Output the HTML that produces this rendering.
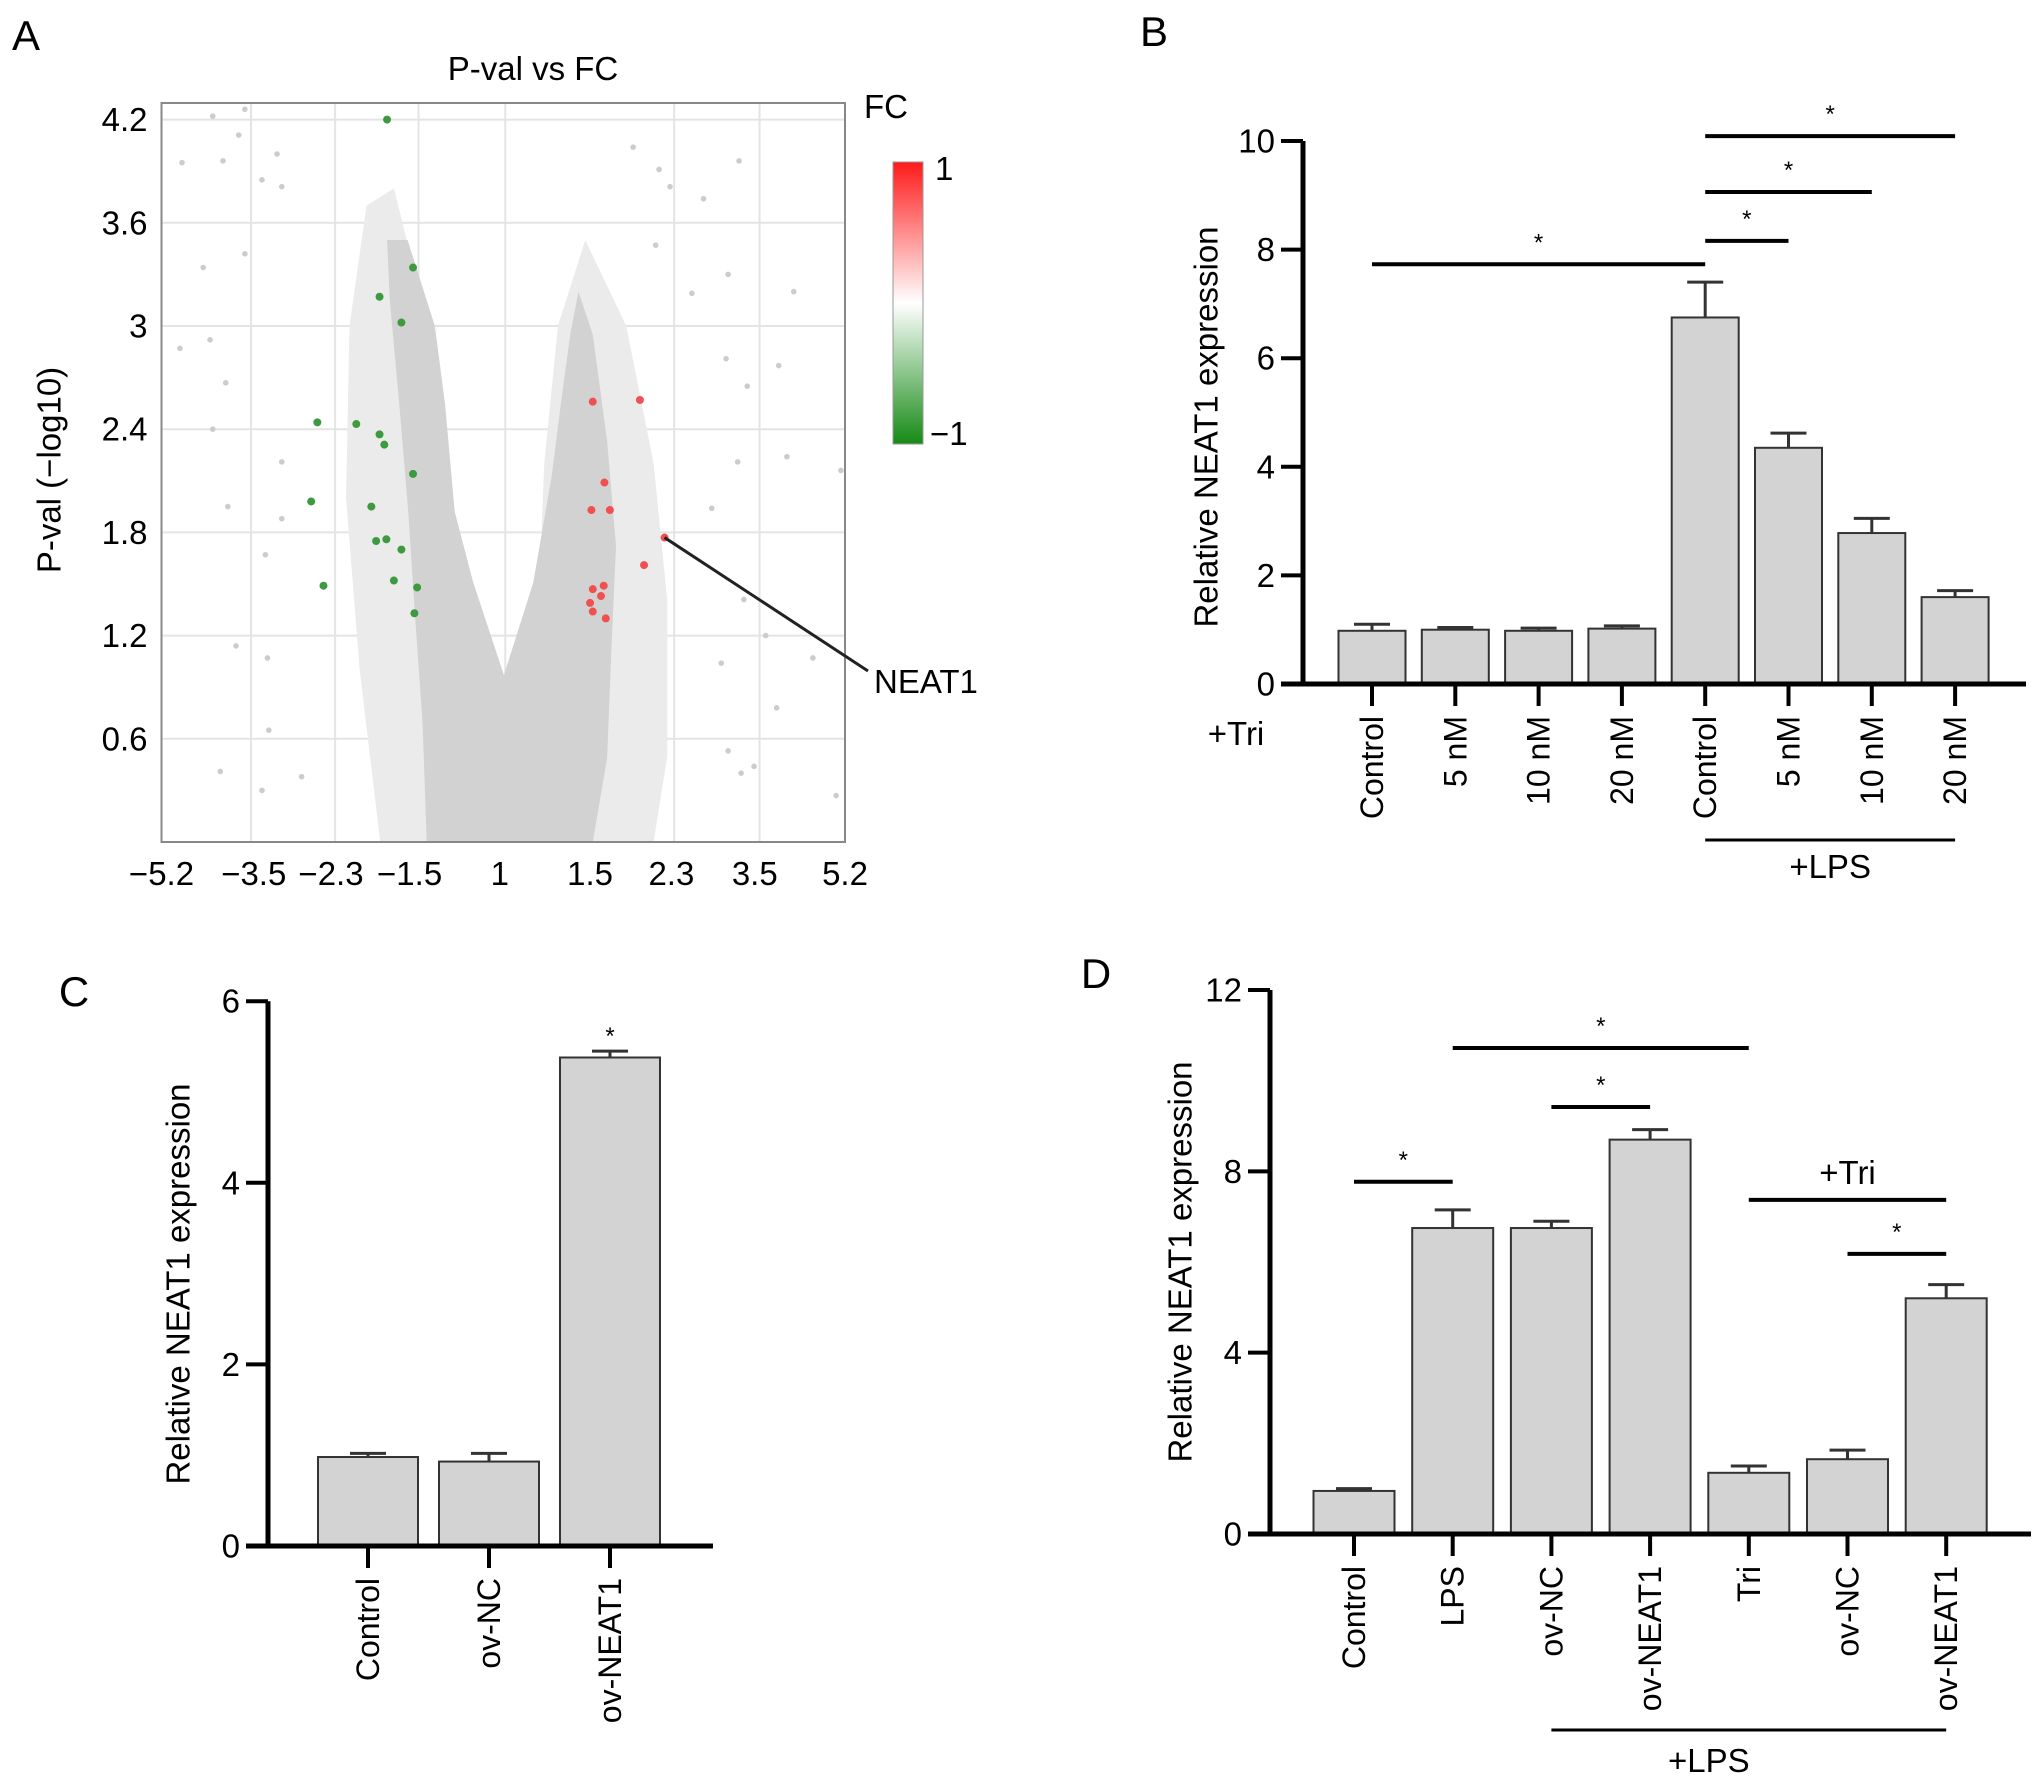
<!DOCTYPE html>
<html><head><meta charset="utf-8"><style>
body{margin:0;background:#fff}
svg{display:block;font-family:"Liberation Sans",sans-serif}
</style></head><body>
<svg id="fig" width="2032" height="1781" viewBox="0 0 2032 1781">
<g id="pa"></g>
<g id="pb"></g>
<g id="pc"></g>
<g id="pd"></g>
</svg>
<script>
// ---------- Panel A data ----------
const aTickLabels = ["−5.2","−3.5","−2.3","−1.5","1","1.5","2.3","3.5","5.2"];
const aTickU = [0,1.35,2.48,3.63,4.95,6.27,7.46,8.68,10];
const aGridU = [1.31,2.54,3.76,5.03,7.5,8.75];
const aYTicks = [0.6,1.2,1.8,2.4,3.0,3.6,4.2];
const aYTickLabels = ["0.6","1.2","1.8","2.4","3","3.6","4.2"];
const greenU = [3.30,3.68,3.19,3.51,2.28,2.85,3.19,3.26,3.68,2.19,3.07,3.14,3.29,3.51,2.37,3.40,3.74,3.70];
const greenY = [4.20,3.34,3.17,3.02,2.44,2.43,2.37,2.31,2.14,1.98,1.95,1.75,1.76,1.70,1.49,1.52,1.48,1.33];
const redU = [6.31,7.00,6.48,6.29,6.56,7.36,7.06,6.31,6.47,6.43,6.27,6.31,6.50];
const redY = [2.56,2.57,2.09,1.93,1.93,1.77,1.61,1.47,1.49,1.43,1.39,1.34,1.30];
const grayU = [0.75,1.22,0.30,0.90,1.13,1.69,1.47,1.76,0.61,1.22,0.27,0.71,0.94,0.75,1.76,0.97,1.76,1.52,1.09,1.55,1.57,0.86,1.47,2.05,9.94,9.87,9.25,9.03,8.45,7.93,8.29,8.57,8.43,9.15,8.52,9.53,8.19,9.0,8.29,8.48,6.9,7.28,7.44,7.23,7.76,8.26,8.67,8.84,8.05];
const grayY = [4.22,4.26,3.95,3.96,4.11,4.0,3.85,3.81,3.34,3.42,2.87,2.92,2.67,2.40,2.21,1.95,1.88,1.67,1.14,1.07,0.65,0.41,0.30,0.38,2.16,0.27,3.2,2.77,3.96,3.74,3.30,2.65,2.21,2.24,1.41,1.07,1.04,0.78,0.53,0.40,4.04,3.91,3.81,3.47,3.19,2.81,0.44,1.20,1.94];
const haloLeftU = [3.2,2.9,2.7,2.75,3.0,3.4,3.9,4.2,4.5,4.7];
const haloLeftY = [0,1.0,2.0,3.0,3.7,3.8,3.0,2.0,1.2,0];
const haloRightU = [5.4,5.5,5.6,5.8,6.2,6.8,7.2,7.4,7.4,7.2];
const haloRightY = [0,1.2,2.2,3.0,3.5,3.0,2.2,1.4,0.5,0];
const cloudU = [3.88,3.82,3.71,3.61,3.48,3.34,3.3,3.6,4.0,4.15,4.29,4.56,5.01,5.44,5.71,5.84,5.98,6.1,6.31,6.52,6.65,6.58,6.52,6.31];
const cloudY = [0,0.69,1.31,1.92,2.54,3.15,3.5,3.5,3.0,2.54,1.92,1.51,0.97,1.51,2.13,2.54,2.95,3.2,2.95,2.33,1.72,1.10,0.49,0];

// ---------- Panel B data ----------
const bCats = ["Control","5 nM","10 nM","20 nM","Control","5 nM","10 nM","20 nM"];
const bVals = [0.98,1.0,0.98,1.02,6.75,4.35,2.78,1.6];
const bErr = [1.1,1.04,1.03,1.07,7.4,4.62,3.05,1.72];
const bTicks = [0,2,4,6,8,10];
const bSigFrom = [0,4,4,4];
const bSigTo = [4,5,6,7];
const bSigY = [7.73,8.16,9.06,10.09];

// ---------- Panel C data ----------
const cCats = ["Control","ov-NC","ov-NEAT1"];
const cVals = [0.98,0.93,5.38];
const cErr = [1.02,1.02,5.45];
const cTicks = [0,2,4,6];
const cStarIdx = [2];
const cStarY = [5.64];

// ---------- Panel D data ----------
const dCats = ["Control","LPS","ov-NC","ov-NEAT1","Tri","ov-NC","ov-NEAT1"];
const dVals = [0.95,6.75,6.75,8.7,1.35,1.65,5.2];
const dErr = [1.0,7.15,6.9,8.92,1.5,1.85,5.5];
const dTicks = [0,4,8,12];
const dSigFrom = [0,1,2,5];
const dSigTo = [1,4,3,6];
const dSigY = [7.77,10.72,9.42,6.18];
const dTriFrom = 4, dTriTo = 6, dTriY = 7.37;

const TICK=33, TITLE=33, ROT=32;
const NS="http://www.w3.org/2000/svg";
function mk(parent,tag,attrs,text){const e=document.createElementNS(NS,tag);for(const k in attrs)e.setAttribute(k,attrs[k]);if(text!==undefined)e.textContent=text;parent.appendChild(e);return e;}

// ---------- Panel A ----------
(function(){
  const g=document.getElementById('pa');
  const L=161.5,R=845,T=103,B=842;
  const ux=u=>L+u*(R-L)/10;
  const yy=v=>B-v*172;
  let e;
  e=mk(g,'text',{x:12,y:50,'font-size':42});e.textContent='A';
  
  
  e=mk(g,'text',{x:533,y:80,'font-size':TITLE,'text-anchor':'middle'},'P-val vs FC');
  
  
  aYTicks.forEach((v,i)=>{
    e=mk(g,'line',{x1:L,x2:R,y1:yy(v),y2:yy(v),stroke:'#e4e4e4','stroke-width':2});
    
    
    e=mk(g,'text',{x:L-14,y:yy(v),'font-size':TICK,'text-anchor':'end','dominant-baseline':'central'},aYTickLabels[i]);
    
    
  });
  aGridU.forEach(u=>{
    e=mk(g,'line',{x1:ux(u),x2:ux(u),y1:T,y2:B,stroke:'#e4e4e4','stroke-width':2});
    
    
  });
  aTickU.forEach((u,i)=>{
    e=mk(g,'text',{x:ux(u),y:885,'font-size':TICK,'text-anchor':'middle'},aTickLabels[i]);
    
    
  });
  const poly=(us,ys)=>us.map((u,i)=>ux(u)+','+yy(ys[i])).join(' ');
  e=mk(g,'polygon',{points:poly(haloLeftU,haloLeftY),fill:'#ebebeb'});
  
  
  e=mk(g,'polygon',{points:poly(haloRightU,haloRightY),fill:'#ebebeb'});
  
  
  e=mk(g,'polygon',{points:poly(cloudU,cloudY),fill:'#d2d2d2'});
  
  
  grayU.forEach((u,i)=>{
    e=mk(g,'circle',{cx:ux(u),cy:yy(grayY[i]),r:2.8,fill:'#cccccc'});
    
    
  });
  greenU.forEach((u,i)=>{
    e=mk(g,'circle',{cx:ux(u),cy:yy(greenY[i]),r:4,fill:'#3e9a3e'});
    
    
  });
  redU.forEach((u,i)=>{
    e=mk(g,'circle',{cx:ux(u),cy:yy(redY[i]),r:4,fill:'#f05050'});
    
    
  });
  e=mk(g,'rect',{x:L,y:T,width:R-L,height:B-T,fill:'none',stroke:'#888','stroke-width':2});
  
  
  e=mk(g,'text',{x:49,y:470,'font-size':TITLE,'text-anchor':'middle','dominant-baseline':'central',transform:'rotate(-90 49 470)'},'P-val (−log10)');
  
  
  e=mk(g,'line',{x1:ux(redU[5]),y1:yy(redY[5]),x2:868,y2:671,stroke:'#222','stroke-width':3});
  
  
  e=mk(g,'text',{x:874,y:693,'font-size':TICK},'NEAT1');
  
  
  const defs=mk(g,'defs',{});
  const lg=mk(defs,'linearGradient',{id:'cb',x1:0,y1:0,x2:0,y2:1});
  mk(lg,'stop',{offset:'0','stop-color':'#ff1a1a'});
  mk(lg,'stop',{offset:'0.5','stop-color':'#ffffff'});
  mk(lg,'stop',{offset:'1','stop-color':'#168a16'});
  e=mk(g,'rect',{x:893,y:162,width:30,height:282,fill:'url(#cb)',stroke:'#999','stroke-width':1});
  
  
  e=mk(g,'text',{x:864,y:118,'font-size':TICK},'FC');
  
  
  e=mk(g,'text',{x:935,y:180,'font-size':TICK},'1');
  
  
  e=mk(g,'text',{x:930,y:445,'font-size':TICK},'−1');
  
  
})();

// ---------- generic bar chart ----------
function barChart(g,o){
  const yy=v=>o.y0-v*o.pu;
  const cx=i=>o.c0+i*o.step;
  let e;
  e=mk(g,'line',{x1:o.ax,x2:o.ax,y1:yy(o.ticks[o.ticks.length-1]),y2:o.y0+2,stroke:'#000','stroke-width':5});
  
  
  o.ticks.forEach(t=>{
    e=mk(g,'line',{x1:o.ax-22,x2:o.ax,y1:yy(t),y2:yy(t),stroke:'#000','stroke-width':4});
    
    
    e=mk(g,'text',{x:o.ax-28,y:yy(t),'font-size':TICK,'text-anchor':'end','dominant-baseline':'central'},String(t));
    
    
  });
  o.vals.forEach((v,i)=>{
    const x=cx(i);
    e=mk(g,'line',{x1:x,x2:x,y1:yy(v),y2:yy(o.err[i]),stroke:'#333','stroke-width':3});
    
    
    e=mk(g,'line',{x1:x-o.cap,x2:x+o.cap,y1:yy(o.err[i]),y2:yy(o.err[i]),stroke:'#333','stroke-width':3});
    
    
    e=mk(g,'rect',{x:x-o.bw/2,y:yy(v),width:o.bw,height:o.y0-yy(v),fill:'#d3d3d3',stroke:'#333','stroke-width':2});
    
    
    e=mk(g,'line',{x1:x,x2:x,y1:o.y0,y2:o.y0+22,stroke:'#000','stroke-width':4});
    
    
    const ty=o.y0+32;
    e=mk(g,'text',{x:x,y:ty,'font-size':ROT,'text-anchor':'end','dominant-baseline':'central',transform:'rotate(-90 '+x+' '+ty+')'},o.cats[i]);
    
    
  });
  e=mk(g,'line',{x1:o.ax-22,x2:o.axEnd,y1:o.y0,y2:o.y0,stroke:'#000','stroke-width':5});
  
  
  e=mk(g,'text',{x:o.titleX,y:o.titleY,'font-size':TITLE,'text-anchor':'middle','dominant-baseline':'central',transform:'rotate(-90 '+o.titleX+' '+o.titleY+')'},'Relative NEAT1 expression');
  
  
  return {yy,cx};
}
function sig(g,x1,x2,y,label){
  let e=mk(g,'line',{x1:x1,x2:x2,y1:y,y2:y,stroke:'#000','stroke-width':4});
  
  
  if(label){
    e=mk(g,'text',{x:(x1+x2)/2,y:label==='*'?y-14:y-16,'font-size':label==='*'?24:TICK,'text-anchor':'middle'},label);
    
    
  }
}

// ---------- Panel B ----------
(function(){
  const g=document.getElementById('pb');
  const s=barChart(g,{cats:bCats,vals:bVals,err:bErr,ticks:bTicks,y0:684,pu:54.3,ax:1303,axEnd:2026,c0:1372,step:83.3,bw:67,cap:18,titleX:1206,titleY:427});
  bSigFrom.forEach((f,i)=>sig(g,s.cx(f),s.cx(bSigTo[i]),s.yy(bSigY[i]),'*'));
  let e=mk(g,'text',{x:1154,y:46,'font-size':42,'text-anchor':'middle'},'B');
  
  
  e=mk(g,'text',{x:1236,y:745,'font-size':TICK,'text-anchor':'middle'},'+Tri');
  
  
  e=mk(g,'line',{x1:s.cx(4),x2:s.cx(7),y1:840,y2:840,stroke:'#000','stroke-width':3});
  
  
  e=mk(g,'text',{x:(s.cx(4)+s.cx(7))/2,y:878,'font-size':TICK,'text-anchor':'middle'},'+LPS');
  
  
})();

// ---------- Panel C ----------
(function(){
  const g=document.getElementById('pc');
  const s=barChart(g,{cats:cCats,vals:cVals,err:cErr,ticks:cTicks,y0:1546,pu:90.8,ax:268,axEnd:713,c0:368,step:121,bw:100,cap:18,titleX:178,titleY:1284});
  cStarIdx.forEach((idx,i)=>{
    let e=mk(g,'text',{x:s.cx(idx),y:s.yy(cStarY[i])+10,'font-size':24,'text-anchor':'middle'},'*');
    
    
  });
  let e=mk(g,'text',{x:74,y:1006,'font-size':42,'text-anchor':'middle'},'C');
  
  
})();

// ---------- Panel D ----------
(function(){
  const g=document.getElementById('pd');
  const s=barChart(g,{cats:dCats,vals:dVals,err:dErr,ticks:dTicks,y0:1534,pu:45.33,ax:1270,axEnd:2031,c0:1354,step:98.7,bw:81,cap:18,titleX:1180,titleY:1262});
  dSigFrom.forEach((f,i)=>sig(g,s.cx(f),s.cx(dSigTo[i]),s.yy(dSigY[i]),'*'));
  sig(g,s.cx(dTriFrom),s.cx(dTriTo),s.yy(dTriY),'+Tri');
  let e=mk(g,'text',{x:1096,y:988,'font-size':42,'text-anchor':'middle'},'D');
  
  
  e=mk(g,'line',{x1:s.cx(2),x2:s.cx(6),y1:1730,y2:1730,stroke:'#000','stroke-width':3});
  
  
  e=mk(g,'text',{x:(s.cx(2)+s.cx(6))/2-40,y:1772,'font-size':TICK,'text-anchor':'middle'},'+LPS');
  
  
})();
</script>
</body></html>
